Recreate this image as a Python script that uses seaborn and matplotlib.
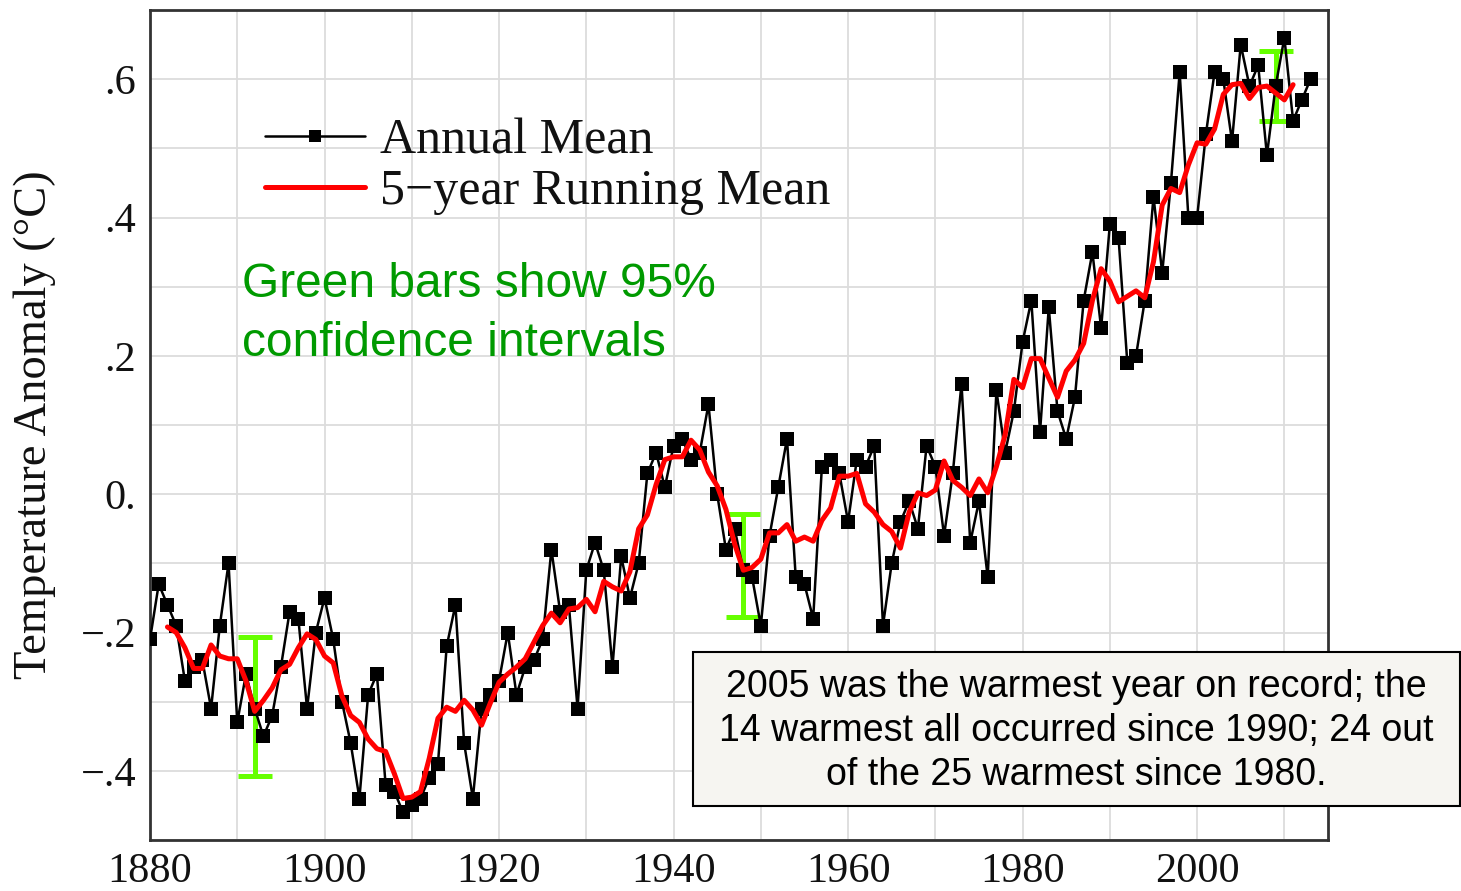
import matplotlib
matplotlib.use("Agg")
import matplotlib.pyplot as plt
from matplotlib.patches import Rectangle
import seaborn as sns
import pandas as pd

# ---------------- data ----------------
years = list(range(1880, 2014))
annual_mean = [
    -0.21, -0.13, -0.16, -0.19, -0.27, -0.25, -0.24, -0.31, -0.19, -0.10,
    -0.33, -0.26, -0.31, -0.35, -0.32, -0.25, -0.17, -0.18, -0.31, -0.20,
    -0.15, -0.21, -0.30, -0.36, -0.44, -0.29, -0.26, -0.42, -0.43, -0.46,
    -0.45, -0.44, -0.41, -0.39, -0.22, -0.16, -0.36, -0.44, -0.31, -0.29,
    -0.27, -0.20, -0.29, -0.25, -0.24, -0.21, -0.08, -0.17, -0.16, -0.31,
    -0.11, -0.07, -0.11, -0.25, -0.09, -0.15, -0.10, 0.03, 0.06, 0.01,
    0.07, 0.08, 0.05, 0.06, 0.13, 0.00, -0.08, -0.05, -0.11, -0.12,
    -0.19, -0.06, 0.01, 0.08, -0.12, -0.13, -0.18, 0.04, 0.05, 0.03,
    -0.04, 0.05, 0.04, 0.07, -0.19, -0.10, -0.04, -0.01, -0.05, 0.07,
    0.04, -0.06, 0.03, 0.16, -0.07, -0.01, -0.12, 0.15, 0.06, 0.12,
    0.22, 0.28, 0.09, 0.27, 0.12, 0.08, 0.14, 0.28, 0.35, 0.24,
    0.39, 0.37, 0.19, 0.20, 0.28, 0.43, 0.32, 0.45, 0.61, 0.40,
    0.40, 0.52, 0.61, 0.60, 0.51, 0.65, 0.59, 0.62, 0.49, 0.59,
    0.66, 0.54, 0.57, 0.60,
]

running_years = list(range(1882, 2012))
running_mean = [
    -0.192, -0.200, -0.222, -0.252, -0.252, -0.218, -0.234, -0.238,
    -0.238, -0.270, -0.314, -0.298, -0.280, -0.254, -0.246, -0.222, -0.202, -0.210,
    -0.234, -0.244, -0.292, -0.320, -0.330, -0.354, -0.368, -0.372, -0.404, -0.440,
    -0.438, -0.430, -0.382, -0.324, -0.308, -0.314, -0.298, -0.312, -0.334, -0.302,
    -0.272, -0.260, -0.250, -0.238, -0.214, -0.190, -0.172, -0.186, -0.166, -0.164,
    -0.152, -0.170, -0.126, -0.134, -0.140, -0.112, -0.050, -0.030, 0.014, 0.050,
    0.054, 0.054, 0.078, 0.064, 0.032, 0.012, -0.022, -0.072, -0.110, -0.106,
    -0.094, -0.056, -0.056, -0.044, -0.068, -0.062, -0.068, -0.038, -0.020, 0.026,
    0.026, 0.030, -0.014, -0.026, -0.044, -0.054, -0.078, -0.026, 0.002, -0.002,
    0.006, 0.048, 0.020, 0.010, -0.002, 0.022, 0.002, 0.040, 0.086, 0.166,
    0.154, 0.196, 0.196, 0.168, 0.140, 0.178, 0.194, 0.218, 0.280, 0.326,
    0.308, 0.278, 0.286, 0.294, 0.284, 0.336, 0.418, 0.442, 0.436, 0.476,
    0.508, 0.506, 0.528, 0.578, 0.592, 0.594, 0.572, 0.588, 0.590, 0.580,
    0.570, 0.592,
]

ci_years = [1892, 1948, 2009]
ci_low = [-0.408, -0.177, 0.540]
ci_high = [-0.207, -0.029, 0.640]

x_major = [1880, 1900, 1920, 1940, 1960, 1980, 2000]
x_minor = list(range(1880, 2015, 10))
y_major = [-0.4, -0.2, 0.0, 0.2, 0.4, 0.6]
y_major_labels = ["\u2212.4", "\u2212.2", "0.", ".2", ".4", ".6"]
y_minor = [-0.5, -0.4, -0.3, -0.2, -0.1, 0.0, 0.1, 0.2, 0.3, 0.4, 0.5, 0.6, 0.7]

legend_labels = ["Annual Mean", "5\u2212year Running Mean"]
ci_note = "Green bars show 95%\nconfidence intervals"
box_note = ("2005 was the warmest year on record; the\n"
            "14 warmest all occurred since 1990; 24 out\n"
            "of the 25 warmest since 1980.")
y_label = "Temperature Anomaly (\u00b0C)"

# ---------------- style ----------------
sns.set_theme(style="white")
plt.rcParams["font.family"] = ["Liberation Serif", "DejaVu Serif"]
serif = ["Liberation Serif", "DejaVu Serif"]
sans = ["Liberation Sans", "DejaVu Sans"]
narrow = ["Liberation Sans Narrow", "Liberation Sans", "DejaVu Sans"]

W, H = 1461, 891
fig = plt.figure(figsize=(W / 100, H / 100), dpi=100)
fig.patch.set_facecolor("white")
ax = fig.add_axes([150 / W, 1 - 840 / H, 1178 / W, 830 / H])
ax.set_facecolor("white")

df_a = pd.DataFrame({"year": years, "val": annual_mean})
df_r = pd.DataFrame({"year": running_years, "val": running_mean})

# confidence bars (under the data)
ci_center = [(a + b) / 2 for a, b in zip(ci_low, ci_high)]
ci_err = [(b - a) / 2 for a, b in zip(ci_low, ci_high)]
ax.errorbar(ci_years, ci_center, yerr=ci_err, fmt="none", ecolor="#66ff00",
            elinewidth=3.6, capsize=12.5, capthick=3.6, zorder=2)

sns.lineplot(data=df_a, x="year", y="val", ax=ax, color="black", linewidth=1.8,
             marker="s", markersize=10.5, markeredgewidth=0, label=legend_labels[0],
             zorder=3)
sns.lineplot(data=df_r, x="year", y="val", ax=ax, color="#ff0000", linewidth=3.6,
             label=legend_labels[1], zorder=4)

ax.set_xlim(1880, 2015)
ax.set_ylim(-0.5, 0.7)
ax.set_xticks(x_major)
ax.set_xticks(x_minor, minor=True)
ax.set_yticks(y_major)
ax.set_yticklabels(y_major_labels)
ax.set_yticks(y_minor, minor=True)
ax.grid(True, which="both", color="#dcdcdc", linewidth=1.3, zorder=0)
ax.set_axisbelow(True)
ax.tick_params(axis="both", which="both", length=0)
ax.tick_params(axis="x", pad=9)
ax.tick_params(axis="y", pad=10)
for lab in ax.get_xticklabels() + ax.get_yticklabels():
    lab.set_fontfamily(serif)
    lab.set_fontsize(30.5)
    lab.set_color("#111111")
ax.set_xlabel("")
ax.set_ylabel(y_label, fontsize=33.5, family=serif, color="#111111")
ax.yaxis.set_label_coords(-0.080, 0.5)
for s in ax.spines.values():
    s.set_color("#333333")
    s.set_linewidth(2.0)
    s.set_visible(True)

leg = ax.legend(loc="upper left", bbox_to_anchor=((265 - 150) / 1178, (840 - 118) / 830),
                frameon=False, prop={"family": serif, "size": 36},
                handlelength=2.0, handletextpad=0.3, labelspacing=0.08,
                borderpad=0, borderaxespad=0, markerscale=0.8)
for t in leg.get_texts():
    t.set_color("#111111")

ax.text((242 - 150) / 1178, (840 - 262) / 830, ci_note, transform=ax.transAxes,
        ha="left", va="top", fontsize=34.5, family=sans, color="#009a00",
        linespacing=1.39, zorder=5)

# annotation box (extends beyond the axes)
rect = Rectangle((693 / W, 1 - 806 / H), (1460 - 693) / W, (806 - 652) / H,
                 transform=fig.transFigure, facecolor="#f6f5f1", edgecolor="black",
                 linewidth=1.5, zorder=10)
fig.patches.append(rect)
fig.text(1076 / W, 1 - 731 / H, box_note, ha="center", va="center",
         multialignment="center", fontsize=27, family=narrow, color="black",
         linespacing=1.3, zorder=11)

fig.savefig("out.png", dpi=100, facecolor="white")
